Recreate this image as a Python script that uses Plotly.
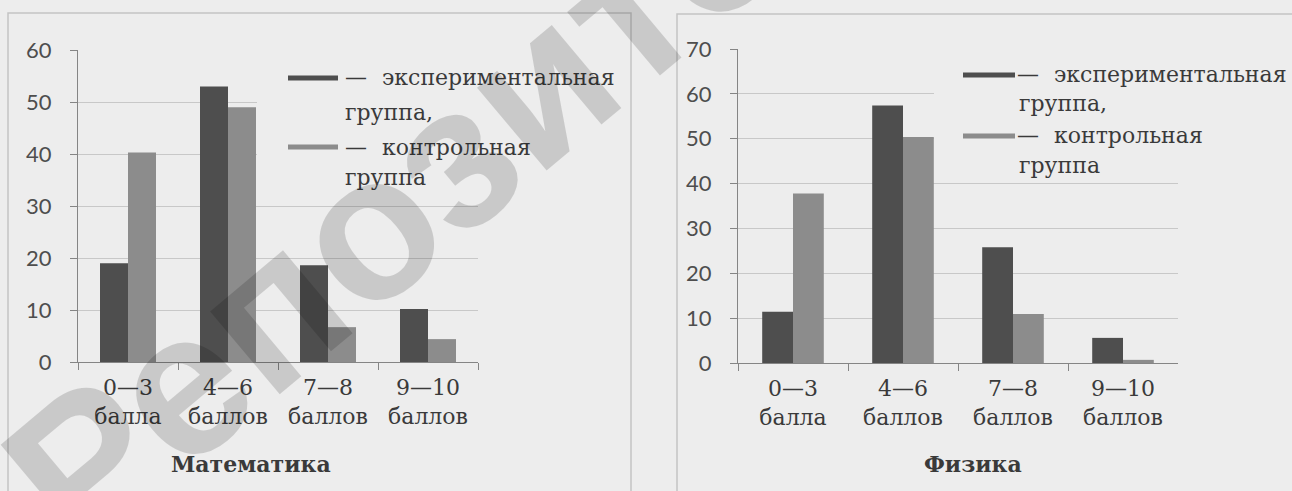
import plotly.graph_objects as go

# ---- data -------------------------------------------------------------
categories = ["0—3<br>балла", "4—6<br>баллов", "7—8<br>баллов", "9—10<br>баллов"]

math_experimental = [19, 53, 18.6, 10.2]
math_control = [40.3, 49, 6.7, 4.4]

physics_experimental = [11.4, 57.4, 25.8, 5.6]
physics_control = [37.8, 50.4, 10.9, 0.7]

legend_experimental = ["экспериментальная", "группа,"]
legend_control = ["контрольная", "группа"]
titles = ["Математика", "Физика"]
watermark = "Репозиторий"

# ---- styling ----------------------------------------------------------
W, H = 1292, 491
PAPER = "#ededed"
DARK = "#4e4e4e"
LIGHT = "#8c8c8c"
GRID = "#c8c8c8"
AXIS = "#858585"
TEXT = "#3a3a3a"
SERIF = "DejaVu Serif"


def px(x):
    return x / W


def py(y):
    return 1 - y / H


fig = go.Figure()

for xa, ya, exp_vals, ctl_vals in (
    ("x", "y", math_experimental, math_control),
    ("x2", "y2", physics_experimental, physics_control),
):
    fig.add_trace(go.Bar(x=categories, y=exp_vals, marker=dict(color=DARK, line_width=0),
                         xaxis=xa, yaxis=ya, showlegend=False))
    fig.add_trace(go.Bar(x=categories, y=ctl_vals, marker=dict(color=LIGHT, line_width=0),
                         xaxis=xa, yaxis=ya, showlegend=False))

xaxis_common = dict(
    type="category", tickson="boundaries", ticks="outside", ticklen=7, tickwidth=1,
    tickcolor=AXIS, showline=True, linecolor=AXIS, linewidth=1, showgrid=False,
    zeroline=False, tickfont=dict(family=SERIF, size=22, color=TEXT),
    ticklabelstandoff=6, automargin=False,
)
yaxis_common = dict(
    dtick=10, showgrid=True, gridcolor=GRID, gridwidth=1, showline=True,
    linecolor=AXIS, linewidth=1, ticks="outside", ticklen=7, tickcolor=AXIS,
    zeroline=False, tickfont=dict(family="Lato", size=22, color="#4e4e4e"),
    ticklabelstandoff=14, automargin=False,
)

fig.update_layout(
    width=W, height=H,
    margin=dict(l=0, r=0, t=0, b=0, autoexpand=False),
    paper_bgcolor=PAPER, plot_bgcolor="rgba(0,0,0,0)",
    barmode="group", bargap=0.44, bargroupgap=0,
    xaxis=dict(domain=[px(78), px(478)], anchor="y", **xaxis_common),
    yaxis=dict(domain=[py(362), py(50)], range=[0, 60], anchor="x", **yaxis_common),
    xaxis2=dict(domain=[px(738), px(1178)], anchor="y2", **xaxis_common),
    yaxis2=dict(domain=[py(363), py(49)], range=[0, 70], anchor="x2", **yaxis_common),
)

shapes = []
annotations = []

# panel frames
for x0, x1, top in ((8, 631, 13), (677, 1300, 14)):
    shapes.append(dict(type="rect", xref="paper", yref="paper", layer="below",
                       x0=px(x0), x1=px(x1), y0=-0.1, y1=py(top),
                       line=dict(color="#c4c4c4", width=1.5), fillcolor="rgba(0,0,0,0)"))

# opaque legend backgrounds: the grid does not show through the legend
for x0, x1, y0, y1 in ((257, 485, 60, 196), (934, 1185, 60, 176), (1004, 1185, 40, 60)):
    shapes.append(dict(type="rect", xref="paper", yref="paper", layer="above",
                       x0=px(x0), x1=px(x1), y0=py(y1), y1=py(y0),
                       line_width=0, fillcolor=PAPER))

# legends
legend_specs = [
    # swatch x0, x1, dash x, word x, second-line x, rows y
    (288, 338, 343, 380, 343, (78, 112, 147, 177)),
    (963, 1015, 1015, 1052, 1017, (75, 103, 136, 165)),
]
for sx0, sx1, dash_x, word_x, line2_x, rows in legend_specs:
    for color, words, y_main, y_sub in ((DARK, legend_experimental, rows[0], rows[1]),
                                        (LIGHT, legend_control, rows[2], rows[3])):
        shapes.append(dict(type="line", xref="paper", yref="paper", layer="above",
                           x0=px(sx0), x1=px(sx1), y0=py(y_main), y1=py(y_main),
                           line=dict(color=color, width=5)))
        for text, tx, ty in (("—", dash_x, y_main), (words[0], word_x, y_main), (words[1], line2_x, y_sub)):
            annotations.append(dict(text=text, x=px(tx), y=py(ty), xref="paper", yref="paper",
                                    xanchor="left", yanchor="middle", showarrow=False,
                                    font=dict(family=SERIF, size=22, color=TEXT)))

# panel captions
for title, cx in zip(titles, (251, 973)):
    annotations.append(dict(text="<b>%s</b>" % title, x=px(cx), y=py(464), xref="paper", yref="paper",
                            xanchor="center", yanchor="middle", showarrow=False,
                            font=dict(family=SERIF, size=22, color=TEXT)))

# diagonal stamp across the left panel
annotations.append(dict(text="<b>%s</b>" % watermark, x=px(540), y=py(82), xref="paper", yref="paper",
                        xanchor="center", yanchor="middle", showarrow=False, textangle=-40,
                        font=dict(family="Liberation Sans Narrow, Liberation Sans", size=205,
                                  color="rgba(0,0,0,0.15)")))

fig.update_layout(shapes=shapes, annotations=annotations)

fig.write_html("out.html")
